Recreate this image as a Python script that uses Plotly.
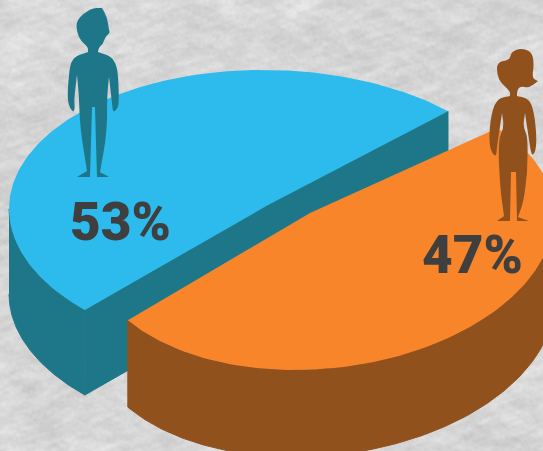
import base64
import struct
import zlib

import numpy as np
import plotly.graph_objects as go

# Share of each group
groups = ["Men", "Women"]
shares = [53, 47]
share_labels = ["53%", "47%"]

# Disc angles are compressed on the far half and stretched on the near half
foreshortening = [0.935, 1.11]
# First rim angle of each slice and the direction it sweeps in
start_angles = [46.5, 41.0]
sweep_signs = [1, -1]

top_colors = ["#2CBBEC", "#F8852A"]
side_colors = ["#1D7789", "#90511D"]
label_color = "#3F3F3F"
paper_color = 214

W, H = 543, 451

# Ellipse of each slice's top face: centre x, centre y, radius x, radius y, shear
discs = [
    (269, 212, 260, 142, -0.012),
    (322, 231, 232, 138, 0.07),
]
hubs = [(268, 205), (310, 213)]
depths = [85, 87]
label_pos = [(120, 222), (472, 255)]


def arc(disc, t0, t1, n=160):
    cx, cy, a, b, k = disc
    t = np.radians(np.linspace(t0, t1, n))
    dx = a * np.cos(t)
    return cx + dx, cy - b * np.sin(t) - k * dx


def paper_texture(w, h):
    # Deterministic hash noise smoothed into long, slightly oblique creases
    yy, xx = np.mgrid[0:h, 0:w].astype(float)
    n = np.sin(xx * 12.9898 + yy * 78.233) * 43758.5453
    n = n - np.floor(n)
    m = np.sin(xx * 39.346 + yy * 11.135 + 0.7) * 24634.6345
    n = n + (m - np.floor(m))

    def blur(img, ru, rv, angle):
        f = np.fft.fft2(img)
        fy = np.fft.fftfreq(h)[:, None]
        fx = np.fft.fftfreq(w)[None, :]
        c, s = np.cos(np.radians(angle)), np.sin(np.radians(angle))
        fu, fv = fx * c + fy * s, -fx * s + fy * c
        return np.real(np.fft.ifft2(f * np.exp(-2 * np.pi**2 * ((fu * ru) ** 2 + (fv * rv) ** 2))))

    def unit(a):
        return (a - a.mean()) / a.std()

    tex = (
        unit(blur(n, 1.0, 1.0, 0)) * 1.8
        + unit(blur(n, 7, 1.6, -18)) * 2.0
        + unit(blur(n, 8, 2.0, 25)) * 1.4
        + unit(blur(n, 24, 16, 0)) * 1.2
    )
    return np.clip(paper_color + tex, 0, 255).astype(np.uint8)


def png_uri(gray):
    h, w = gray.shape
    raw = b"".join(b"\x00" + gray[i].tobytes() for i in range(h))

    def chunk(tag, data):
        body = tag + data
        return struct.pack(">I", len(data)) + body + struct.pack(">I", zlib.crc32(body))

    png = (
        b"\x89PNG\r\n\x1a\n"
        + chunk(b"IHDR", struct.pack(">IIBBBBB", w, h, 8, 0, 0, 0, 0))
        + chunk(b"IDAT", zlib.compress(raw, 9))
        + chunk(b"IEND", b"")
    )
    return "data:image/png;base64," + base64.b64encode(png).decode()


def smooth_path(pts):
    # Quadratic curves through edge midpoints; a repeated point stays a sharp corner
    mids = [((pts[i][0] + pts[(i + 1) % len(pts)][0]) / 2, (pts[i][1] + pts[(i + 1) % len(pts)][1]) / 2) for i in range(len(pts))]
    d = f"M{mids[-1][0]:.1f},{mids[-1][1]:.1f}"
    for p, m in zip(pts, mids):
        d += f" Q{p[0]},{p[1]} {m[0]:.1f},{m[1]:.1f}"
    return d + " Z"


man = [
    (102, 8), (102, 8), (107, 17), (109, 30), (110, 33), (105, 37), (103, 44), (99, 47), (98, 52), (98, 52),
    (110, 56), (115, 62), (118, 72), (119, 100), (118, 108), (113, 113), (112, 103), (109, 77), (109, 77),
    (107, 97), (107, 133), (100, 172), (100, 172), (109, 177), (109, 177), (97, 177), (97, 177),
    (95, 107), (95, 107), (92, 107), (92, 107), (90, 177), (90, 177), (77, 177), (77, 177), (87, 171), (87, 171),
    (80, 127), (79, 97), (77, 75), (77, 75), (74, 100), (75, 108), (73, 113), (67, 102), (69, 73), (71, 62), (76, 56),
    (88, 52), (88, 52), (88, 47), (81, 41), (77, 33), (76, 20), (91, 8),
]
woman = [
    (521, 48), (532, 52), (534, 64), (532, 78), (538, 81), (538, 81), (529, 88), (520, 86), (517, 91), (517, 96), (517, 96),
    (530, 99), (535, 117), (537, 147), (532, 158), (529, 140), (525, 113), (525, 113), (523, 127), (528, 137), (527, 172), (527, 172),
    (524, 200), (518, 217), (518, 217), (529, 221), (529, 221), (517, 221), (517, 221), (516, 172), (516, 172), (511, 172), (511, 172),
    (510, 221), (510, 221), (497, 221), (497, 221), (504, 216), (504, 216), (500, 187), (498, 140), (504, 128), (502, 113), (502, 113),
    (499, 133), (497, 147), (496, 158), (489, 148), (490, 120), (496, 99), (510, 96), (510, 96), (510, 91), (501, 83), (497, 75), (497, 62),
    (510, 60), (511, 52),
]

fig = go.Figure()

# Blue and orange slices are drawn back to front: walls first, then the top face
for i, (share, scale, start, sign) in enumerate(zip(shares, foreshortening, start_angles, sweep_signs)):
    end = start + sign * 360 * share / 100 * scale
    disc, hub, depth = discs[i], hubs[i], depths[i]
    ax, ay = arc(disc, start, end)

    # Outer wall, only the part of the rim that faces the viewer
    rim_from = 180.0 if i == 0 else 0.0
    rx, ry = arc(disc, rim_from, end)
    fig.add_trace(go.Scatter(
        x=np.r_[rx, rx[::-1]], y=np.r_[ry, ry[::-1] + depth],
        mode="lines", fill="toself", fillcolor=side_colors[i], line=dict(width=1, color=side_colors[i]),
        hoverinfo="skip", showlegend=False,
    ))

    # Cut face along the straight edge of the blue slice
    if i == 0:
        cx = [ax[-1], hub[0], ax[0]]
        cy = [ay[-1], hub[1], ay[0]]
        fig.add_trace(go.Scatter(
            x=cx + cx[::-1], y=cy + [v + depth for v in cy[::-1]],
            mode="lines", fill="toself", fillcolor=side_colors[i], line=dict(width=1, color=side_colors[i]),
            hoverinfo="skip", showlegend=False,
        ))

    fig.add_trace(go.Scatter(
        x=np.r_[ax, hub[0]], y=np.r_[ay, hub[1]],
        mode="lines", fill="toself", fillcolor=top_colors[i], line=dict(width=0, color=top_colors[i]),
        name=groups[i], hoverinfo="name", showlegend=False,
    ))

fig.update_layout(
    width=W, height=H,
    margin=dict(l=0, r=0, t=0, b=0),
    paper_bgcolor="#d6d6d6", plot_bgcolor="rgba(0,0,0,0)",
    xaxis=dict(range=[0, W], visible=False, fixedrange=True),
    yaxis=dict(range=[H, 0], visible=False, fixedrange=True),
    images=[dict(
        source=png_uri(paper_texture(W, H)), xref="paper", yref="paper",
        x=0, y=1, sizex=1, sizey=1, sizing="stretch", xanchor="left", yanchor="top", layer="below",
    )],
    shapes=[
        dict(type="path", path=smooth_path(man), fillcolor=side_colors[0], line=dict(width=0), layer="above"),
        dict(type="path", path=smooth_path(woman), fillcolor=side_colors[1], line=dict(width=0), layer="above"),
    ],
    annotations=[
        dict(x=x, y=y, text=t, showarrow=False, xanchor="center", yanchor="middle",
             font=dict(family="Roboto", size=53, color=label_color, weight=900))
        for t, (x, y) in zip(share_labels, label_pos)
    ],
    showlegend=False,
)

fig.write_html("out.html", config=dict(displayModeBar=False))
